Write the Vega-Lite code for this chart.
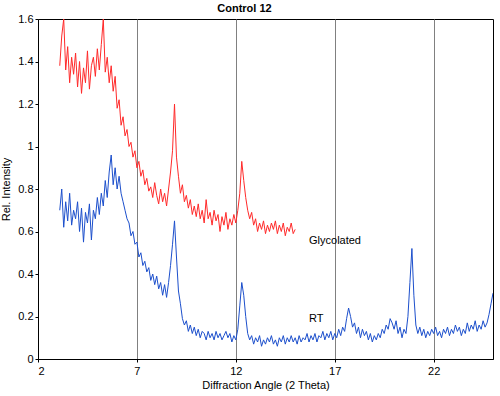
{
  "$schema": "https://vega.github.io/schema/vega-lite/v6.json",
  "width": 455,
  "height": 340,
  "autosize": {"type": "none"},
  "padding": {"left": 38, "top": 19, "right": 7, "bottom": 37},
  "background": "white",
  "title": {"text": "Control  12", "font": "Liberation Sans", "fontSize": 11, "fontWeight": "bold", "color": "black", "anchor": "middle", "dx": -21, "offset": -1},
  "config": {
    "view": {"stroke": "black", "strokeWidth": 1},
    "axis": {"labelFont": "Liberation Sans", "titleFont": "Liberation Sans", "labelFontSize": 11, "titleFontSize": 11, "titleFontWeight": "normal", "labelColor": "black", "titleColor": "black", "domainColor": "black", "tickColor": "black", "tickSize": 3}
  },
  "datasets": {
    "gly": [
      {"x":3.1,"y":1.38},{"x":3.2,"y":1.52},{"x":3.3,"y":1.6},{"x":3.4,"y":1.36},{"x":3.5,"y":1.47},{"x":3.6,"y":1.3},{"x":3.7,"y":1.42},{"x":3.8,"y":1.34},{"x":3.9,"y":1.44},{"x":4.0,"y":1.28},
      {"x":4.1,"y":1.4},{"x":4.2,"y":1.25},{"x":4.3,"y":1.37},{"x":4.4,"y":1.3},{"x":4.5,"y":1.45},{"x":4.6,"y":1.27},{"x":4.7,"y":1.38},{"x":4.8,"y":1.42},{"x":4.9,"y":1.33},{"x":5.0,"y":1.46},
      {"x":5.1,"y":1.36},{"x":5.2,"y":1.48},{"x":5.3,"y":1.6},{"x":5.4,"y":1.35},{"x":5.5,"y":1.42},{"x":5.6,"y":1.3},{"x":5.7,"y":1.38},{"x":5.8,"y":1.26},{"x":5.9,"y":1.33},{"x":6.0,"y":1.18},
      {"x":6.1,"y":1.22},{"x":6.2,"y":1.1},{"x":6.3,"y":1.14},{"x":6.4,"y":1.05},{"x":6.5,"y":1.08},{"x":6.6,"y":1.0},{"x":6.7,"y":1.02},{"x":6.8,"y":0.95},{"x":6.9,"y":0.98},{"x":7.0,"y":0.9},
      {"x":7.1,"y":0.93},{"x":7.2,"y":0.86},{"x":7.3,"y":0.89},{"x":7.4,"y":0.82},{"x":7.5,"y":0.85},{"x":7.6,"y":0.79},{"x":7.7,"y":0.81},{"x":7.8,"y":0.76},{"x":7.9,"y":0.83},{"x":8.0,"y":0.77},
      {"x":8.1,"y":0.73},{"x":8.2,"y":0.8},{"x":8.3,"y":0.74},{"x":8.4,"y":0.78},{"x":8.5,"y":0.72},{"x":8.6,"y":0.8},{"x":8.7,"y":0.88},{"x":8.8,"y":0.98},{"x":8.9,"y":1.2},{"x":9.0,"y":0.95},
      {"x":9.1,"y":0.86},{"x":9.2,"y":0.78},{"x":9.3,"y":0.82},{"x":9.4,"y":0.74},{"x":9.5,"y":0.77},{"x":9.6,"y":0.71},{"x":9.7,"y":0.75},{"x":9.8,"y":0.68},{"x":9.9,"y":0.72},{"x":10.0,"y":0.67},
      {"x":10.1,"y":0.73},{"x":10.2,"y":0.66},{"x":10.3,"y":0.7},{"x":10.4,"y":0.64},{"x":10.5,"y":0.75},{"x":10.6,"y":0.66},{"x":10.7,"y":0.69},{"x":10.8,"y":0.63},{"x":10.9,"y":0.7},{"x":11.0,"y":0.65},
      {"x":11.1,"y":0.68},{"x":11.2,"y":0.6},{"x":11.3,"y":0.67},{"x":11.4,"y":0.63},{"x":11.5,"y":0.69},{"x":11.6,"y":0.61},{"x":11.7,"y":0.66},{"x":11.8,"y":0.63},{"x":11.9,"y":0.68},{"x":12.0,"y":0.64},
      {"x":12.1,"y":0.7},{"x":12.2,"y":0.78},{"x":12.3,"y":0.93},{"x":12.4,"y":0.84},{"x":12.5,"y":0.76},{"x":12.6,"y":0.7},{"x":12.7,"y":0.66},{"x":12.8,"y":0.69},{"x":12.9,"y":0.63},{"x":13.0,"y":0.66},
      {"x":13.1,"y":0.6},{"x":13.2,"y":0.64},{"x":13.3,"y":0.61},{"x":13.4,"y":0.65},{"x":13.5,"y":0.59},{"x":13.6,"y":0.63},{"x":13.7,"y":0.6},{"x":13.8,"y":0.64},{"x":13.9,"y":0.61},{"x":14.0,"y":0.65},
      {"x":14.1,"y":0.59},{"x":14.2,"y":0.63},{"x":14.3,"y":0.6},{"x":14.4,"y":0.64},{"x":14.5,"y":0.58},{"x":14.6,"y":0.62},{"x":14.7,"y":0.6},{"x":14.8,"y":0.64},{"x":14.9,"y":0.59},{"x":15.0,"y":0.61}
    ],
    "rt": [
      {"x":3.1,"y":0.7},{"x":3.2,"y":0.8},{"x":3.3,"y":0.62},{"x":3.4,"y":0.74},{"x":3.5,"y":0.65},{"x":3.6,"y":0.78},{"x":3.7,"y":0.63},{"x":3.8,"y":0.7},{"x":3.9,"y":0.66},{"x":4.0,"y":0.74},
      {"x":4.1,"y":0.6},{"x":4.2,"y":0.71},{"x":4.3,"y":0.55},{"x":4.4,"y":0.69},{"x":4.5,"y":0.64},{"x":4.6,"y":0.73},{"x":4.7,"y":0.56},{"x":4.8,"y":0.7},{"x":4.9,"y":0.66},{"x":5.0,"y":0.76},
      {"x":5.1,"y":0.68},{"x":5.2,"y":0.78},{"x":5.3,"y":0.72},{"x":5.4,"y":0.84},{"x":5.5,"y":0.76},{"x":5.6,"y":0.88},{"x":5.7,"y":0.96},{"x":5.8,"y":0.82},{"x":5.9,"y":0.9},{"x":6.0,"y":0.8},
      {"x":6.1,"y":0.86},{"x":6.2,"y":0.78},{"x":6.3,"y":0.74},{"x":6.4,"y":0.7},{"x":6.5,"y":0.66},{"x":6.6,"y":0.64},{"x":6.7,"y":0.58},{"x":6.8,"y":0.6},{"x":6.9,"y":0.54},{"x":7.0,"y":0.55},
      {"x":7.1,"y":0.48},{"x":7.2,"y":0.5},{"x":7.3,"y":0.44},{"x":7.4,"y":0.46},{"x":7.5,"y":0.41},{"x":7.6,"y":0.43},{"x":7.7,"y":0.37},{"x":7.8,"y":0.4},{"x":7.9,"y":0.35},{"x":8.0,"y":0.39},
      {"x":8.1,"y":0.33},{"x":8.2,"y":0.36},{"x":8.3,"y":0.3},{"x":8.4,"y":0.35},{"x":8.5,"y":0.29},{"x":8.6,"y":0.36},{"x":8.7,"y":0.44},{"x":8.8,"y":0.54},{"x":8.9,"y":0.65},{"x":9.0,"y":0.48},
      {"x":9.1,"y":0.32},{"x":9.2,"y":0.26},{"x":9.3,"y":0.19},{"x":9.4,"y":0.16},{"x":9.5,"y":0.18},{"x":9.6,"y":0.13},{"x":9.7,"y":0.16},{"x":9.8,"y":0.12},{"x":9.9,"y":0.15},{"x":10.0,"y":0.11},
      {"x":10.1,"y":0.14},{"x":10.2,"y":0.1},{"x":10.3,"y":0.13},{"x":10.4,"y":0.12},{"x":10.5,"y":0.09},{"x":10.6,"y":0.13},{"x":10.7,"y":0.1},{"x":10.8,"y":0.12},{"x":10.9,"y":0.09},{"x":11.0,"y":0.13},
      {"x":11.1,"y":0.1},{"x":11.2,"y":0.12},{"x":11.3,"y":0.09},{"x":11.4,"y":0.11},{"x":11.5,"y":0.13},{"x":11.6,"y":0.1},{"x":11.7,"y":0.12},{"x":11.8,"y":0.08},{"x":11.9,"y":0.11},{"x":12.0,"y":0.09},
      {"x":12.1,"y":0.14},{"x":12.2,"y":0.25},{"x":12.3,"y":0.36},{"x":12.4,"y":0.3},{"x":12.5,"y":0.2},{"x":12.6,"y":0.12},{"x":12.7,"y":0.09},{"x":12.8,"y":0.11},{"x":12.9,"y":0.07},{"x":13.0,"y":0.1},
      {"x":13.1,"y":0.08},{"x":13.2,"y":0.11},{"x":13.3,"y":0.06},{"x":13.4,"y":0.09},{"x":13.5,"y":0.07},{"x":13.6,"y":0.1},{"x":13.7,"y":0.08},{"x":13.8,"y":0.11},{"x":13.9,"y":0.07},{"x":14.0,"y":0.09},
      {"x":14.1,"y":0.06},{"x":14.2,"y":0.1},{"x":14.3,"y":0.08},{"x":14.4,"y":0.11},{"x":14.5,"y":0.07},{"x":14.6,"y":0.1},{"x":14.7,"y":0.08},{"x":14.8,"y":0.11},{"x":14.9,"y":0.08},{"x":15.0,"y":0.1},
      {"x":15.1,"y":0.07},{"x":15.2,"y":0.11},{"x":15.3,"y":0.08},{"x":15.4,"y":0.1},{"x":15.5,"y":0.09},{"x":15.6,"y":0.12},{"x":15.7,"y":0.08},{"x":15.8,"y":0.11},{"x":15.9,"y":0.09},{"x":16.0,"y":0.12},
      {"x":16.1,"y":0.08},{"x":16.2,"y":0.11},{"x":16.3,"y":0.1},{"x":16.4,"y":0.13},{"x":16.5,"y":0.09},{"x":16.6,"y":0.12},{"x":16.7,"y":0.1},{"x":16.8,"y":0.13},{"x":16.9,"y":0.09},{"x":17.0,"y":0.12},
      {"x":17.1,"y":0.1},{"x":17.2,"y":0.14},{"x":17.3,"y":0.11},{"x":17.4,"y":0.15},{"x":17.5,"y":0.13},{"x":17.6,"y":0.19},{"x":17.7,"y":0.24},{"x":17.8,"y":0.2},{"x":17.9,"y":0.15},{"x":18.0,"y":0.17},
      {"x":18.1,"y":0.12},{"x":18.2,"y":0.15},{"x":18.3,"y":0.1},{"x":18.4,"y":0.14},{"x":18.5,"y":0.11},{"x":18.6,"y":0.13},{"x":18.7,"y":0.09},{"x":18.8,"y":0.12},{"x":18.9,"y":0.08},{"x":19.0,"y":0.11},
      {"x":19.1,"y":0.09},{"x":19.2,"y":0.12},{"x":19.3,"y":0.1},{"x":19.4,"y":0.14},{"x":19.5,"y":0.12},{"x":19.6,"y":0.16},{"x":19.7,"y":0.14},{"x":19.8,"y":0.19},{"x":19.9,"y":0.17},{"x":20.0,"y":0.14},
      {"x":20.1,"y":0.18},{"x":20.2,"y":0.12},{"x":20.3,"y":0.15},{"x":20.4,"y":0.1},{"x":20.5,"y":0.14},{"x":20.6,"y":0.12},{"x":20.7,"y":0.2},{"x":20.8,"y":0.36},{"x":20.9,"y":0.52},{"x":21.0,"y":0.3},
      {"x":21.1,"y":0.16},{"x":21.2,"y":0.12},{"x":21.3,"y":0.15},{"x":21.4,"y":0.11},{"x":21.5,"y":0.14},{"x":21.6,"y":0.1},{"x":21.7,"y":0.13},{"x":21.8,"y":0.11},{"x":21.9,"y":0.14},{"x":22.0,"y":0.12},
      {"x":22.1,"y":0.15},{"x":22.2,"y":0.11},{"x":22.3,"y":0.13},{"x":22.4,"y":0.1},{"x":22.5,"y":0.14},{"x":22.6,"y":0.12},{"x":22.7,"y":0.15},{"x":22.8,"y":0.11},{"x":22.9,"y":0.14},{"x":23.0,"y":0.12},
      {"x":23.1,"y":0.16},{"x":23.2,"y":0.13},{"x":23.3,"y":0.15},{"x":23.4,"y":0.11},{"x":23.5,"y":0.14},{"x":23.6,"y":0.12},{"x":23.7,"y":0.17},{"x":23.8,"y":0.13},{"x":23.9,"y":0.16},{"x":24.0,"y":0.14},
      {"x":24.1,"y":0.18},{"x":24.2,"y":0.13},{"x":24.3,"y":0.16},{"x":24.4,"y":0.14},{"x":24.5,"y":0.18},{"x":24.6,"y":0.15},{"x":24.7,"y":0.17},{"x":24.8,"y":0.21},{"x":24.9,"y":0.26},{"x":25.0,"y":0.31}
    ],
    "labels": [
      {"x":15.7,"y":0.555,"t":"Glycolated"},
      {"x":15.7,"y":0.19,"t":"RT"}
    ]
  },
  "layer": [
    {
      "data": {"name": "gly"},
      "mark": {"type": "line", "color": "#ff2a2a", "strokeWidth": 1, "clip": true},
      "encoding": {
        "x": {"field": "x", "type": "quantitative", "scale": {"domain": [2, 25], "nice": false},
          "axis": {"values": [2, 7, 12, 17, 22], "title": "Diffraction Angle (2 Theta)", "grid": true, "gridColor": "#808080", "gridOpacity": 1, "gridWidth": 1, "labelPadding": 3, "titlePadding": 3}},
        "y": {"field": "y", "type": "quantitative", "scale": {"domain": [0, 1.6], "nice": false},
          "axis": {"values": [0,0.05,0.1,0.15,0.2,0.25,0.3,0.35,0.4,0.45,0.5,0.55,0.6,0.65,0.7,0.75,0.8,0.85,0.9,0.95,1,1.05,1.1,1.15,1.2,1.25,1.3,1.35,1.4,1.45,1.5,1.55,1.6],
            "labelExpr": "round(datum.value*20)%4==0 ? format(datum.value,'~g') : ''", "grid": false, "title": "Rel. Intensity", "labelPadding": 2, "titlePadding": 6}}
      }
    },
    {
      "data": {"name": "rt"},
      "mark": {"type": "line", "color": "#1c4fcc", "strokeWidth": 1, "clip": true},
      "encoding": {
        "x": {"field": "x", "type": "quantitative"},
        "y": {"field": "y", "type": "quantitative"}
      }
    },
    {
      "data": {"name": "labels"},
      "mark": {"type": "text", "align": "left", "baseline": "middle", "font": "Liberation Sans", "fontSize": 11, "color": "black"},
      "encoding": {
        "x": {"field": "x", "type": "quantitative"},
        "y": {"field": "y", "type": "quantitative"},
        "text": {"field": "t", "type": "nominal"}
      }
    }
  ]
}
